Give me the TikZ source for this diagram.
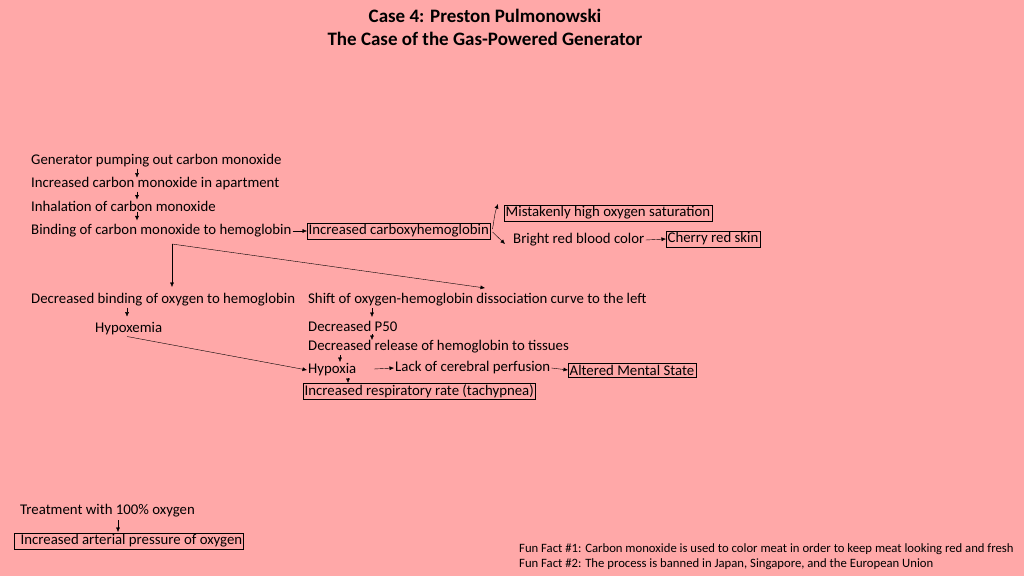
\documentclass[tikz,border=0pt]{standalone}
\usepackage{fontspec}
\setmainfont{Carlito}
\usetikzlibrary{arrows.meta}
\definecolor{bgpink}{RGB}{255,168,168}
\tikzset{
	txt/.style = {anchor = west, inner sep = 1pt, font = \fontsize{14.8}{17}\selectfont},
	boxed/.style = {txt, draw, inner sep = 1.5pt},
	arr/.style = {-{Latex[length=4.5pt,width=4pt]}, thin}
}
\begin{document}
\begin{tikzpicture}[x=1pt, y=-1pt]
		\fill[bgpink] (0,0) rectangle (1024,576);
		\useasboundingbox (0,0) rectangle (1024,576);
		% title
		\node [font = \fontsize{19}{23}\bfseries] (title1) at (485,16) {Case 4: Preston Pulmonowski};
		\node [font = \fontsize{19}{23}\bfseries] (title2) at (485,39) {The Case of the Gas-Powered Generator};
		% chain on the left
		\node [txt] (gen) at (30,161) {Generator pumping out carbon monoxide};
		\node [txt] (co) at (30,184) {Increased carbon monoxide in apartment};
		\node [txt] (inhal) at (30,206) {Inhalation of carbon monoxide};
		\node [txt] (bind) at (30,231) {Binding of carbon monoxide to hemoglobin};
		\node [boxed] (cohb) at (307,231) {Increased carboxyhemoglobin};
		\node [boxed] (sat) at (504,213) {Mistakenly high oxygen saturation\hspace{26pt}};
		\node [txt] (bright) at (512,240) {Bright red blood color};
		\node [boxed] (cherry) at (666,239) {Cherry red skin};
		\node [txt] (decbind) at (30,300) {Decreased binding of oxygen to hemoglobin};
		\node [txt] (shift) at (307,300) {Shift of oxygen-hemoglobin dissociation curve to the left};
		\node [txt] (hypoxemia) at (94,329) {Hypoxemia};
		\node [txt] (p50) at (307,326) {Decreased P50};
		\node [txt] (release) at (307,347) {Decreased release of hemoglobin to tissues};
		\node [txt] (hypoxia) at (307,370) {Hypoxia};
		\node [txt] (lack) at (394,368) {Lack of cerebral perfusion};
		\node [boxed] (ams) at (568,370) {Altered Mental State};
		\node [boxed] (resp) at (303,391) {Increased respiratory rate (tachypnea)\hspace{2pt}};
		% treatment
		\node [txt] (treat) at (19,511) {Treatment with 100\% oxygen};
		\node [boxed] (pao2) at (14,541) {\hspace{5pt}Increased arterial pressure of oxygen\hspace{8pt}};
		\node [txt, font = \fontsize{12.7}{15}\selectfont] (fact1) at (518,549) {Fun Fact \#1: Carbon monoxide is used to color meat in order to keep meat looking red and fresh};
		\node [txt, font = \fontsize{12.7}{15}\selectfont] (fact2) at (518,564) {Fun Fact \#2: The process is banned in Japan, Singapore, and the European Union};
		% arrows
		\coordinate (split) at (172,244);
		\draw [arr] (gen.south west) ++(107,0) -- ++(0,9);
		\draw [arr] (co.south west) ++(107,0) -- ++(0,8);
		\draw [arr] (inhal.south west) ++(107,0) -- ++(0,8);
		\draw [arr] (bind.east) -- (cohb.west);
		\draw [arr] (cohb.east) ++(2,-2) to [out=80, in=-110] (498,204);
		\draw [arr] (cohb.east) ++(2,1) -- (505,244);
		\draw [arr] (bright.east) -- (cherry.west);
		\draw [arr] (split) -- (172,287);
		\draw [arr] (split) -- (485,288);
		\draw [arr] (decbind.south west) ++(97,0) -- ++(0,9);
		\draw [arr] (hypoxemia.south west) ++(33,0) -- (hypoxia.west);
		\draw [arr] (372,308) -- (372,317);
		\draw [arr] (372,334) -- (372,340);
		\draw [arr] (340,355) -- (340,362);
		\draw [arr] (348,378) -- (348,383);
		\draw [arr] (374,369) -- (lack.west);
		\draw [arr] (lack.east) -- (ams.west);
		\draw [arr] (118,520) -- (118,532);
	\end{tikzpicture}
\end{document}
